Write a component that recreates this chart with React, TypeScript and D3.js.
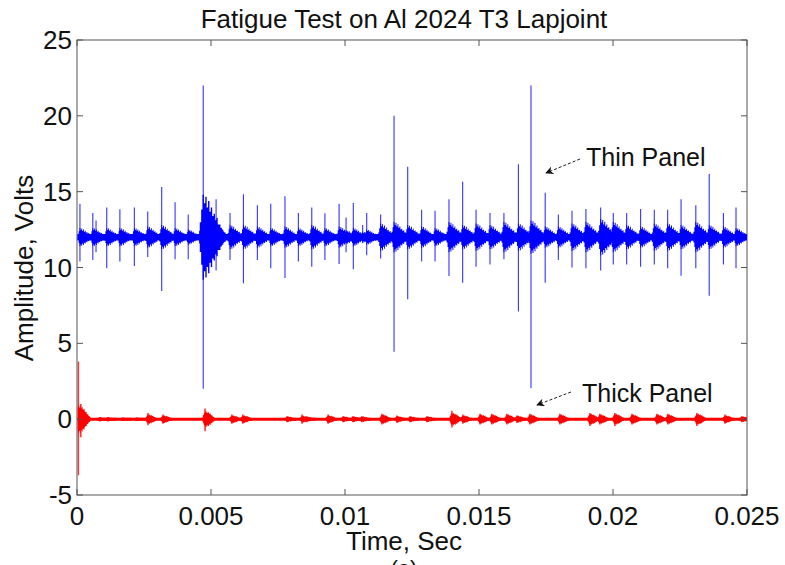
import React from "react";
import * as d3 from "d3";

// ---- Data ----
const xTicks = [0, 0.005, 0.01, 0.015, 0.02, 0.025];
const xTickLabels = ["0", "0.005", "0.01", "0.015", "0.02", "0.025"];
const yTicks = [-5, 0, 5, 10, 15, 20, 25];
const yTickLabels = ["-5", "0", "5", "10", "15", "20", "25"];

// Thin panel (blue): baseline ~12 V, impulse events
const thinBaseline = 12;
const thinTimes = [
  0.00011, 0.00059, 0.00071, 0.00111, 0.0016, 0.00214, 0.00264, 0.00316, 0.00366, 0.00415,
  0.00471, 0.00519, 0.00571, 0.00621, 0.00673, 0.00723, 0.00776, 0.00826, 0.00876, 0.00925,
  0.00978, 0.01004, 0.01031, 0.01066, 0.01081, 0.01133, 0.01183, 0.01234, 0.01286, 0.01336,
  0.01388, 0.01439, 0.01489, 0.01541, 0.01593, 0.01647, 0.01694, 0.01747, 0.01796, 0.01847,
  0.01899, 0.01954, 0.02001, 0.02051, 0.02103, 0.02154, 0.02204, 0.02254, 0.02309, 0.02359,
  0.02412, 0.02459,
];
const thinMax = [
  14.2, 13.6, 13.1, 13.95, 13.84, 13.95, 13.7, 15.3, 14.3, 13.5,
  22.0, 14.5, 13.6, 14.83, 14.1, 14.2, 14.7, 13.6, 13.95, 13.57,
  14.2, 13.3, 14.25, 12.8, 13.6, 13.5, 20.0, 16.65, 13.8, 13.75,
  14.5, 15.66, 13.8, 13.6, 13.6, 16.8, 22.0, 14.93, 13.5, 13.75,
  13.85, 13.95, 13.6, 13.6, 13.85, 13.8, 13.8, 14.5, 14.1, 16.17,
  13.6, 13.95,
];
const thinMin = [
  10.4, 10.5, 11.0, 9.95, 10.4, 10.1, 10.7, 8.45, 10.55, 10.55,
  2.0, 9.8, 10.5, 8.96, 10.5, 9.95, 9.3, 10.4, 10.05, 10.5,
  10.23, 11.0, 9.88, 11.6, 10.8, 10.6, 4.45, 7.9, 10.4, 10.4,
  9.44, 9.0, 10.05, 10.2, 10.55, 7.1, 2.04, 9.0, 10.5, 10.0,
  9.95, 9.8, 10.2, 10.2, 10.05, 10.2, 9.95, 9.45, 9.95, 8.13,
  10.2, 9.95,
];
const thinBurst = [
  0.6, 0.6, 0.35, 0.6, 0.6, 0.6, 0.7, 0.8, 0.6, 0.5,
  2.8, 0.7, 0.8, 0.8, 0.7, 0.6, 0.7, 0.6, 0.8, 0.6,
  0.7, 0.45, 0.6, 0.35, 0.5, 0.9, 1.0, 0.8, 0.7, 0.6,
  1.0, 0.8, 0.9, 0.8, 1.0, 0.9, 1.1, 0.7, 0.7, 0.9,
  1.0, 1.2, 1.0, 0.8, 0.7, 0.9, 0.9, 0.8, 1.0, 0.8,
  0.7, 0.6,
];

// Thick panel (red): baseline 0 V
const thickBaseline = 0;
const thickTimes = [
  0.00005, 0.00014, 0.00086, 0.00116, 0.00172, 0.00224, 0.00265, 0.00321, 0.00478, 0.00578,
  0.00619, 0.00784, 0.0084, 0.00858, 0.00937, 0.00993, 0.0103, 0.01063, 0.01138, 0.01194,
  0.01243, 0.01306, 0.01399, 0.0144, 0.01504, 0.01548, 0.01604, 0.01642, 0.0169, 0.01802,
  0.01914, 0.01951, 0.02007, 0.02071, 0.02164, 0.02205, 0.02313, 0.02418, 0.02481,
];
const thickMax = [
  3.8, 1.0, 0.15, 0.15, 0.12, 0.12, 0.4, 0.3, 0.7, 0.3,
  0.3, 0.2, 0.3, 0.2, 0.3, 0.2, 0.2, 0.2, 0.35, 0.25,
  0.2, 0.2, 0.55, 0.3, 0.35, 0.35, 0.35, 0.25, 0.35, 0.35,
  0.4, 0.35, 0.4, 0.35, 0.35, 0.35, 0.4, 0.3, 0.2,
];
const thickMin = [
  -3.7, -1.2, -0.15, -0.15, -0.12, -0.12, -0.4, -0.3, -0.8, -0.3,
  -0.3, -0.2, -0.3, -0.2, -0.3, -0.2, -0.2, -0.2, -0.35, -0.25,
  -0.2, -0.2, -0.55, -0.3, -0.35, -0.35, -0.35, -0.25, -0.35, -0.35,
  -0.45, -0.35, -0.45, -0.35, -0.35, -0.35, -0.45, -0.3, -0.2,
];
const thickBurst = [
  0.9, 0.6, 0.12, 0.12, 0.1, 0.1, 0.3, 0.25, 0.5, 0.25,
  0.25, 0.18, 0.22, 0.15, 0.25, 0.18, 0.18, 0.18, 0.3, 0.2,
  0.18, 0.18, 0.4, 0.25, 0.3, 0.3, 0.3, 0.22, 0.3, 0.3,
  0.35, 0.3, 0.35, 0.3, 0.3, 0.3, 0.35, 0.25, 0.18,
];

// ---- Styling constants ----
const W = 785;
const H = 565;
const M = { left: 77, right: 747, top: 40, bottom: 495 };
const FONT = "'Liberation Sans', Arial, Helvetica, sans-serif";
const BLUE = "#0000ff";
const RED = "#ff0000";
// envelope shapes of a burst (relative amplitude per step, onset at index ONSET)
const THIN_PROFILE = [0.15, 0.35, 0.65, 1, 0.8, 0.95, 0.7, 0.85, 0.6, 0.7, 0.5, 0.55, 0.4, 0.45, 0.3, 0.3, 0.22, 0.18, 0.12, 0.08];
const THICK_PROFILE = [0.3, 0.55, 0.8, 1, 0.85, 1, 0.8, 0.9, 0.7, 0.75, 0.55, 0.5, 0.35, 0.3, 0.2];
const ONSET = 3;
const STEP = 0.000028;

const x = d3.scaleLinear().domain([0, 0.025]).range([M.left, M.right]);
const y = d3.scaleLinear().domain([-5, 25]).range([M.bottom, M.top]);

type Burst = { t: number; lo: number; hi: number; amp: number };

function burstArea(base: number, b: Burst, noiseHalf: number, profile: number[]) {
  const stretch = 1 + b.amp * 0.3;
  const pts = profile
    .map((p, i) => ({
      t: b.t + (i - ONSET) * STEP * stretch,
      a: Math.max(noiseHalf, b.amp * p),
    }))
    .filter((d) => d.t >= 0 && d.t <= 0.025);
  const gen = d3
    .area<{ t: number; a: number }>()
    .x((d) => x(d.t))
    .y0((d) => y(base - d.a))
    .y1((d) => y(base + d.a))
    .curve(d3.curveStep);
  return gen(pts) || "";
}

function Signal({ base, times, hi, lo, amp, color, noiseHalf, spikeWidth, profile }: any) {
  const bursts: Burst[] = times.map((t: number, i: number) => ({ t, hi: hi[i], lo: lo[i], amp: amp[i] }));
  const band = d3
    .area<number>()
    .x((d) => x(d))
    .y0(y(base - noiseHalf))
    .y1(y(base + noiseHalf))([0, 0.025]);
  return (
    <g>
      <path d={band || ""} fill={color} />
      {bursts.map((b, i) => (
        <path key={"a" + i} d={burstArea(base, b, noiseHalf, profile)} fill={color} />
      ))}
      {bursts.map((b, i) => (
        <line
          key={"s" + i}
          x1={x(b.t)}
          x2={x(b.t)}
          y1={y(b.hi)}
          y2={y(b.lo)}
          stroke={color}
          strokeWidth={spikeWidth}
          strokeOpacity={0.8}
        />
      ))}
    </g>
  );
}

export default function App() {
  const tickLen = 6;
  return (
    <svg
      width={W}
      height={H}
      viewBox={`0 0 ${W} ${H}`}
      style={{ position: "absolute", left: 0, top: 0, background: "#fff" }}
    >
      <defs>
        <clipPath id="plot">
          <rect x={M.left + 0.5} y={M.top} width={M.right - M.left - 0.5} height={M.bottom - M.top} />
        </clipPath>
        <marker id="arr" viewBox="0 0 10 10" refX="9" refY="5" markerWidth="8" markerHeight="8" orient="auto-start-reverse">
          <path d="M0,0 L10,5 L0,10 L3,5 Z" fill="#111" />
        </marker>
      </defs>
      <rect x={0} y={0} width={W} height={H} fill="#fff" />

      {/* axes box (drawn under the data so the first red spike stays visible) */}
      <rect x={M.left} y={M.top} width={M.right - M.left} height={M.bottom - M.top} fill="none" stroke="#555" strokeWidth={1} />

      <g clipPath="url(#plot)">
        <Signal base={thinBaseline} times={thinTimes} hi={thinMax} lo={thinMin} amp={thinBurst} color={BLUE} noiseHalf={0.2} spikeWidth={1.1} profile={THIN_PROFILE} />
        <Signal base={thickBaseline} times={thickTimes} hi={thickMax} lo={thickMin} amp={thickBurst} color={RED} noiseHalf={0.1} spikeWidth={1.6} profile={THICK_PROFILE} />
      </g>

      {xTicks.map((t, i) => (
        <g key={"xt" + i}>
          <line x1={x(t)} x2={x(t)} y1={M.bottom} y2={M.bottom - tickLen} stroke="#555" />
          <line x1={x(t)} x2={x(t)} y1={M.top} y2={M.top + tickLen} stroke="#555" />
          <text x={x(t)} y={M.bottom + 30} textAnchor="middle" fontFamily={FONT} fontSize={26} fill="#111">
            {xTickLabels[i]}
          </text>
        </g>
      ))}
      {yTicks.map((t, i) => (
        <g key={"yt" + i}>
          <line x1={M.left} x2={M.left + tickLen} y1={y(t)} y2={y(t)} stroke="#555" />
          <line x1={M.right} x2={M.right - tickLen} y1={y(t)} y2={y(t)} stroke="#555" />
          <text x={M.left - 5} y={y(t) + 9} textAnchor="end" fontFamily={FONT} fontSize={26} fill="#111">
            {yTickLabels[i]}
          </text>
        </g>
      ))}

      {/* titles */}
      <text x={404} y={28} textAnchor="middle" fontFamily={FONT} fontSize={26} fill="#111">
        Fatigue Test on Al 2024 T3 Lapjoint
      </text>
      <text x={404} y={550} textAnchor="middle" fontFamily={FONT} fontSize={26} fill="#111">
        Time, Sec
      </text>
      <text transform={`translate(33, 268) rotate(-90)`} textAnchor="middle" fontFamily={FONT} fontSize={26} fill="#111">
        Amplitude, Volts
      </text>
      <text x={404} y={576} textAnchor="middle" fontFamily={FONT} fontSize={22} fill="#111">
        (a)
      </text>

      {/* annotations */}
      <line x1={580} y1={159} x2={546} y2={173} stroke="#222" strokeWidth={1} strokeDasharray="3,2" markerEnd="url(#arr)" />
      <text x={586} y={166} fontFamily={FONT} fontSize={25} fill="#111">
        Thin Panel
      </text>
      <line x1={571} y1={392} x2={537} y2={405} stroke="#222" strokeWidth={1} strokeDasharray="3,2" markerEnd="url(#arr)" />
      <text x={582} y={402} fontFamily={FONT} fontSize={25} fill="#111">
        Thick Panel
      </text>
    </svg>
  );
}
